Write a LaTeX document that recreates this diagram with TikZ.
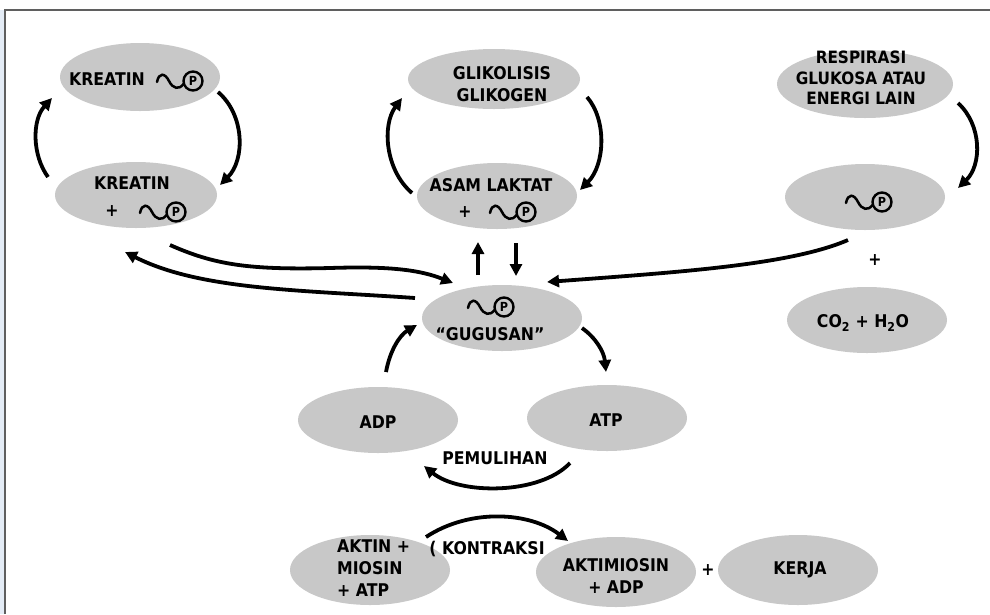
\documentclass[tikz,border=0pt]{standalone}
\usepackage{fontspec}
\setmainfont{DejaVu Sans}[FakeStretch=0.9]
\usetikzlibrary{shapes.geometric,arrows.meta}
\definecolor{ellgray}{RGB}{200,200,200}
\definecolor{framegray}{RGB}{95,95,95}
\definecolor{stripblue}{RGB}{228,236,246}
\tikzset{
  blob/.style={ellipse, fill=ellgray, inner sep=0pt, minimum width=160pt, minimum height=66pt},
  lbl/.style={font=\bfseries\fontsize{17.5}{22}\selectfont, inner sep=0pt, align=center, text=black},
  conn/.style={line width=3.8pt, -{Triangle[length=12pt,width=12pt]}},
  phos/.pic={
    \draw[line width=2.5pt, line cap=round] (-36,1) .. controls (-34,-9) and (-28,-8) .. (-24,0) .. controls (-20,8) and (-14,9) .. (-9.5,3);
    \draw[line width=2.4pt] (0,0) circle (9.5pt);
    \node[font=\bfseries\fontsize{12.5}{12.5}\selectfont, inner sep=0pt] (-P) at (0,0) {P};
  }
}
\begin{document}
\begin{tikzpicture}[x=1pt,y=-1pt]
\useasboundingbox (0,0) rectangle (990,614);
\fill[white] (0,0) rectangle (990,614);
\fill[stripblue] (0,10) rectangle (4,614);
\draw[line width=2pt, framegray] (5,614) -- (5,10) -- (990,10);

% ellipses
\node[blob, minimum width=160pt, minimum height=68pt] (k1) at (140,77) {};
\node[blob, minimum width=162pt] (k2) at (136,195) {};
\node[blob, minimum width=172pt, minimum height=60pt] (g1) at (494,79) {};
\node[blob] (g2) at (497,196) {};
\node[blob, minimum width=176pt, minimum height=68pt] (r1) at (865,84) {};
\node[blob] (r2) at (865,197) {};
\node[blob] (r3) at (867,320) {};
\node[blob] (gug) at (502,318) {};
\node[blob] (adp) at (378,420) {};
\node[blob] (atp) at (607,418) {};
\node[blob, minimum height=70pt] (aktin) at (370,570) {};
\node[blob, minimum height=70pt] (aktim) at (616,572) {};
\node[blob, minimum height=70pt] (kerja) at (798,570) {};

% texts
\node[lbl] (tk1) at (107,79) {KREATIN};
\pic (pk1) at (193,81) {phos};
\node[lbl] (tk2) at (132,183) {KREATIN};
\node[lbl] (pl1) at (112,211) {+};
\pic (pk2) at (176,212) {phos};
\node[lbl] (tg1) at (502,84) {GLIKOLISIS\\GLIKOGEN};
\node[lbl] (tg2) at (491,185) {ASAM LAKTAT};
\node[lbl] (pl2) at (465,212) {+};
\pic (pg2) at (526,212) {phos};
\node[lbl, font=\bfseries\fontsize{17}{20.5}\selectfont] (tr1) at (861,78) {RESPIRASI\\GLUKOSA ATAU\\ENERGI LAIN};
\pic (pr2) at (882,202) {phos};
\node[lbl] (pl3) at (875,260) {+};
\node[lbl] (tr3) at (863,323) {CO\textsubscript{2} + H\textsubscript{2}O};
\pic (pg) at (504,307) {phos};
\node[lbl] (tgug) at (490,334) {``GUGUSAN''};
\node[lbl] (tadp) at (378,422) {ADP};
\node[lbl] (tatp) at (606,420) {ATP};
\node[lbl] (tpem) at (495,458) {PEMULIHAN};
\node[lbl, align=left, anchor=west] (taktin) at (337,568) {AKTIN +\\MIOSIN\\+ ATP};
\node[lbl] (tkon) at (487,549) {( KONTRAKSI};
\node[lbl] (taktim) at (616,576) {AKTIMIOSIN\\+ ADP};
\node[lbl] (pl4) at (708,570) {+};
\node[lbl] (tkerja) at (800,570) {KERJA};

% connectors
\draw[conn] ([shift={(-88,-18)}]k2.center) .. controls (32,155) and (32,120) .. ([shift={(-88,21)}]k1.center);
\draw[conn] ([shift={(78,15)}]k1.center) .. controls (245,115) and (245,160) .. ([shift={(84,-10)}]k2.center);
\draw[conn] ([shift={(-85,-3)}]g2.center) .. controls (385,170) and (382,125) .. ([shift={(-92,19)}]g1.center);
\draw[conn] ([shift={(93,18)}]g1.center) .. controls (607,120) and (605,165) .. ([shift={(83,-6)}]g2.center);
\draw[conn] ([shift={(93,19)}]r1.center) .. controls (982,125) and (982,165) .. ([shift={(93,-9)}]r2.center);
\draw[conn] ([shift={(-17,43)}]r2.center) .. controls (790,265) and (680,272) .. ([shift={(45,-36)}]gug.center);
\draw[conn] ([shift={(34,50)}]k2.center) .. controls (215,265) and (250,270) .. (330,268) .. controls (390,266) and (420,270) .. ([shift={(-49,-35)}]gug.center);
\draw[conn] ([shift={(-87,-20)}]gug.center) .. controls (300,290) and (200,290) .. ([shift={(-11,57)}]k2.center);
\draw[conn] ([shift={(-24,-43)}]gug.center) -- ([shift={(-19,46)}]g2.center);
\draw[conn] ([shift={(19,47)}]g2.center) -- ([shift={(14,-42)}]gug.center);
\draw[conn] ([shift={(8,-48)}]adp.center) .. controls (390,350) and (400,335) .. ([shift={(-85,7)}]gug.center);
\draw[conn] ([shift={(80,10)}]gug.center) .. controls (596,338) and (604,352) .. ([shift={(-1,-46)}]atp.center);
\draw[conn] ([shift={(-37,45)}]atp.center) .. controls (540,495) and (460,495) .. ([shift={(46,46)}]adp.center);
\draw[conn] ([shift={(56,-33)}]aktin.center) .. controls (470,508) and (530,512) .. ([shift={(-48,-31)}]aktim.center);
\end{tikzpicture}
\end{document}
